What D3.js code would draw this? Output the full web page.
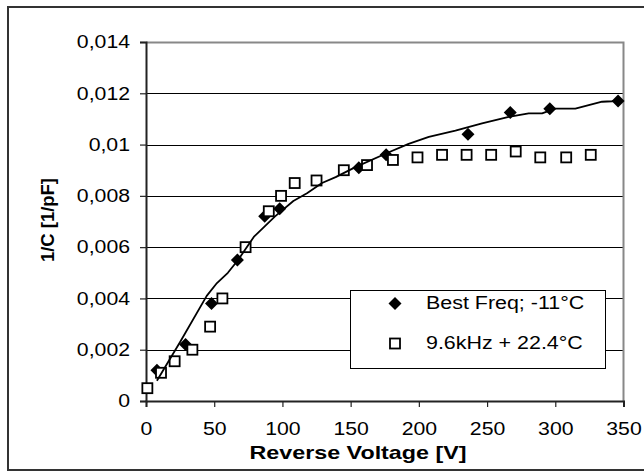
<!DOCTYPE html>
<html>
<head>
<meta charset="utf-8">
<script src="https://cdn.jsdelivr.net/npm/d3@7"></script>
<style>
  html, body { margin: 0; padding: 0; background: #fff; }
  svg { display: block; }
  text { font-family: Arial, "Liberation Sans", sans-serif; fill: #000; }
</style>
</head>
<body>
<svg id="chart" width="644" height="472"></svg>
<script>
// Reverse voltage [V] and 1/C [1/pF] for the two measurement runs
const bestFreqVoltage = [8, 29, 48, 67, 87, 98, 156, 176, 236, 267, 296, 346];
const bestFreqInvC = [0.0012, 0.0022, 0.0038, 0.0055, 0.0072, 0.0075, 0.0091, 0.0096, 0.0104, 0.01125, 0.0114, 0.0117];

const khzVoltage = [1, 11, 21, 34, 47, 56, 73, 90, 99, 109, 125, 145, 162, 181, 199, 217, 235, 253, 271, 289, 308, 326];
const khzInvC = [0.0005, 0.0011, 0.00155, 0.002, 0.0029, 0.004, 0.006, 0.0074, 0.008, 0.0085, 0.0086, 0.009, 0.0092, 0.0094, 0.0095, 0.0096, 0.0096, 0.0096, 0.00973, 0.0095, 0.0095, 0.0096];

// Trend curve through the best-frequency run
const trendVoltage = [8, 25, 44.5, 52, 60, 67.5, 79, 94.6, 108, 118, 129, 139, 153.5, 178, 192.5, 207.3, 226.8, 246.3, 265.9, 280.5, 290.3, 300, 314.7, 324.5, 334.3, 341.6, 346];
const trendInvC = [0.00079, 0.0023, 0.0041, 0.0046, 0.005, 0.0055, 0.0064, 0.0072, 0.0078, 0.0081, 0.0085, 0.00873, 0.00912, 0.0097, 0.01003, 0.0103, 0.01054, 0.01083, 0.01108, 0.01122, 0.01122, 0.0114, 0.0114, 0.01154, 0.01167, 0.01169, 0.01172];

const xTicks = [0, 50, 100, 150, 200, 250, 300, 350];
const yTicks = [0, 0.002, 0.004, 0.006, 0.008, 0.01, 0.012, 0.014];
const yTickLabels = ["0", "0,002", "0,004", "0,006", "0,008", "0,01", "0,012", "0,014"];

const seriesNames = ["Best Freq; -11°C", "9.6kHz + 22.4°C"];

const svg = d3.select("#chart");
const x = d3.scaleLinear().domain([0, 350]).range([146, 623.5]);
const y = d3.scaleLinear().domain([0, 0.014]).range([401, 42]);

// Widen text horizontally to the chart's stretched lettering
const STRETCH = 1.18;
function stretch(sel, k) {
  sel.each(function () {
    const w = this.getComputedTextLength();
    d3.select(this).attr("textLength", w * k).attr("lengthAdjust", "spacingAndGlyphs");
  });
}

function diamondPath(cx, cy, r) {
  return `M${cx},${cy - r}L${cx + r},${cy}L${cx},${cy + r}L${cx - r},${cy}Z`;
}

// Outer chart frame
svg.append("rect")
  .attr("x", 8).attr("y", 7).attr("width", 660).attr("height", 463)
  .attr("fill", "none").attr("stroke", "#333").attr("stroke-width", 2);

// Horizontal gridlines
svg.append("g").selectAll("line")
  .data(yTicks.filter(d => d > 0 && d < 0.014))
  .join("line")
  .attr("x1", x(0)).attr("x2", x(350))
  .attr("y1", d => Math.round(y(d)) + 0.5).attr("y2", d => Math.round(y(d)) + 0.5)
  .attr("stroke", "#000").attr("stroke-width", 1);

// Plot-area border (top and right)
svg.append("path")
  .attr("d", `M${x(0)},${Math.round(y(0.014)) + 0.5}H${x(350)}V${y(0)}`)
  .attr("fill", "none").attr("stroke", "#888").attr("stroke-width", 2);

// Y axis
const yAxis = svg.append("g")
  .attr("transform", `translate(${x(0)},0)`)
  .call(d3.axisLeft(y).tickValues(yTicks).tickSize(6).tickPadding(10)
    .tickFormat((d, i) => yTickLabels[i]));
yAxis.select(".domain").attr("stroke", "#222").attr("stroke-width", 2);
yAxis.selectAll(".tick line").attr("stroke", "#222").attr("stroke-width", 1.2);
yAxis.selectAll(".tick text").attr("font-size", 18).attr("fill", "#000")
  .attr("font-family", "Arial, 'Liberation Sans', sans-serif")
  .call(stretch, STRETCH);

// X axis
const xAxis = svg.append("g")
  .attr("transform", `translate(0,${y(0)})`)
  .call(d3.axisBottom(x).tickValues(xTicks).tickSize(6).tickPadding(15)
    .tickFormat(d3.format("d")));
xAxis.select(".domain").attr("stroke", "#222").attr("stroke-width", 2);
xAxis.selectAll(".tick line").attr("stroke", "#222").attr("stroke-width", 1.2);
xAxis.selectAll(".tick text").attr("font-size", 18).attr("fill", "#000")
  .attr("font-family", "Arial, 'Liberation Sans', sans-serif")
  .call(stretch, STRETCH);

// Axis titles
svg.append("text")
  .attr("x", 358).attr("y", 459)
  .attr("text-anchor", "middle").attr("font-weight", "bold").attr("font-size", 19)
  .text("Reverse Voltage [V]")
  .attr("textLength", 217).attr("lengthAdjust", "spacingAndGlyphs");

svg.append("text")
  .attr("transform", "translate(54,220) rotate(-90)")
  .attr("text-anchor", "middle").attr("font-weight", "bold").attr("font-size", 18)
  .text("1/C [1/pF]")
  .attr("textLength", 84).attr("lengthAdjust", "spacingAndGlyphs");

// Best-frequency run: filled diamonds
svg.append("g").selectAll("path")
  .data(bestFreqVoltage.map((v, i) => [v, bestFreqInvC[i]]))
  .join("path")
  .attr("d", d => diamondPath(x(d[0]), y(d[1]), 6.5))
  .attr("fill", "#000");

// 9.6 kHz run: open squares
svg.append("g").selectAll("rect")
  .data(khzVoltage.map((v, i) => [v, khzInvC[i]]))
  .join("rect")
  .attr("x", d => x(d[0]) - 5).attr("y", d => y(d[1]) - 5)
  .attr("width", 10).attr("height", 10)
  .attr("fill", "#fff").attr("stroke", "#000").attr("stroke-width", 1.8);

// Trend curve
svg.append("path")
  .datum(trendVoltage.map((v, i) => [v, trendInvC[i]]))
  .attr("d", d3.line().x(d => x(d[0])).y(d => y(d[1])))
  .attr("fill", "none").attr("stroke", "#000").attr("stroke-width", 1.8)
  .attr("stroke-linejoin", "round");

// Legend
const legend = svg.append("g");
legend.append("rect")
  .attr("x", 350.5).attr("y", 290.5).attr("width", 255).attr("height", 78)
  .attr("fill", "#fff").attr("stroke", "#000").attr("stroke-width", 1);
legend.append("path").attr("d", diamondPath(395, 303.5, 6.5)).attr("fill", "#000");
legend.append("rect")
  .attr("x", 390).attr("y", 338.5).attr("width", 10).attr("height", 10)
  .attr("fill", "#fff").attr("stroke", "#000").attr("stroke-width", 1.8);
legend.selectAll("text.item")
  .data(seriesNames)
  .join("text")
  .attr("class", "item")
  .attr("x", 426).attr("y", (d, i) => i === 0 ? 308.5 : 349)
  .attr("font-size", 18)
  .text(d => d)
  .call(stretch, 1.19);
</script>
</body>
</html>
